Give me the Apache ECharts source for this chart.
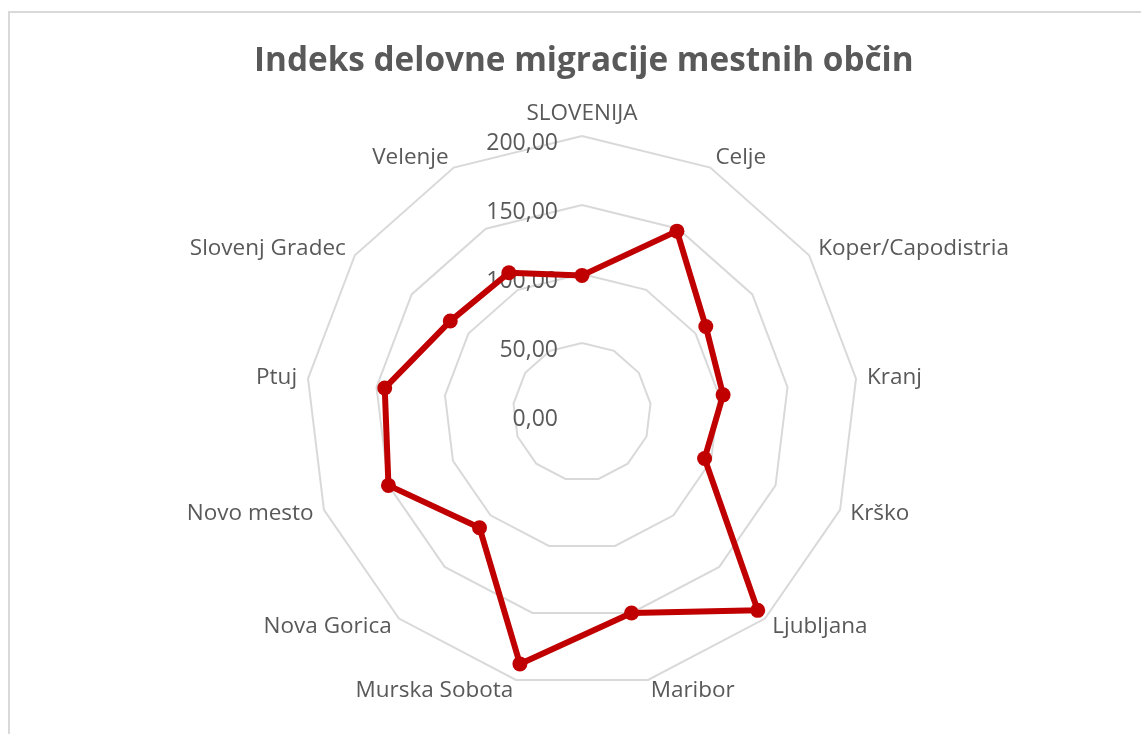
<!DOCTYPE html>
<html>
<head>
<meta charset="utf-8">
<title>Indeks delovne migracije mestnih občin</title>
<script src="https://cdn.jsdelivr.net/npm/echarts@6/dist/echarts.min.js"></script>
<style>
    html, body {
        margin: 0;
        padding: 0;
        background: #fff;
    }
    #wrap {
        position: relative;
        width: 1141px;
        height: 734px;
        overflow: hidden;
    }
    /* okvir grafa (kot v Excelu) */
    #frame {
        position: absolute;
        left: 8px;
        top: 11px;
        width: 1200px;
        height: 800px;
        border-left: 2px solid #d9d9d9;
        border-top: 2px solid #d9d9d9;
    }
    #chart {
        position: absolute;
        left: 0;
        top: 0;
        width: 1141px;
        height: 734px;
    }
</style>
</head>
<body>
<div id="wrap">
    <div id="frame"></div>
    <div id="chart"></div>
</div>
<script>
    // podatki (v smeri urinega kazalca od vrha)
    var obcine = ['SLOVENIJA', 'Celje', 'Koper/Capodistria', 'Kranj', 'Krško', 'Ljubljana', 'Maribor',
        'Murska Sobota', 'Nova Gorica', 'Novo mesto', 'Ptuj', 'Slovenj Gradec', 'Velenje'];
    var indeks = [99, 148, 109, 103, 95, 192, 150, 188, 112, 150, 144, 116, 114];
    var osMax = 200;
    var osKoraki = 4;

    var barvaTeksta = '#595959';
    var font = '"Open Sans", "Noto Sans", sans-serif';

    // echarts riše osi v nasprotni smeri urinega kazalca -> obrnemo vrstni red (prvi ostane na vrhu)
    function vUrinoSmer(arr) {
        return [arr[0]].concat(arr.slice(1).reverse());
    }

    var chart = echarts.init(document.getElementById('chart'));

    var indicator = vUrinoSmer(obcine).map(function (name, i) {
        var ind = { name: name, min: 0, max: osMax };
        // oznake vrednosti samo na prvi osi
        if (i === 0) {
            ind.axisLabel = { show: true };
        }
        return ind;
    });

    var option = {
        animation: false,
        title: {
            text: 'Indeks delovne migracije mestnih občin',
            left: 249,
            top: 40,
            textStyle: {
                fontFamily: font,
                fontSize: 33.3,
                fontWeight: 'bold',
                color: barvaTeksta
            }
        },
        radar: {
            center: [582, 412],
            radius: 276,
            startAngle: 90,
            splitNumber: osKoraki,
            shape: 'polygon',
            indicator: indicator,
            nameGap: 11,
            axisName: {
                color: barvaTeksta,
                fontFamily: font,
                fontSize: 22.5
            },
            axisLine: { show: false },
            axisTick: { show: false },
            axisLabel: {
                show: false,
                color: barvaTeksta,
                fontFamily: font,
                fontSize: 23,
                margin: 24,
                showMinLabel: true,
                showMaxLabel: true,
                formatter: function (v) {
                    return '{v|' + v.toFixed(2).replace('.', ',') + '}';
                },
                rich: {
                    v: {
                        color: barvaTeksta,
                        fontFamily: font,
                        fontSize: 23,
                        padding: [14, 0, 0, 0]
                    }
                }
            },
            splitLine: {
                lineStyle: { color: '#d9d9d9', width: 2 }
            },
            splitArea: { show: false }
        },
        series: [{
            type: 'radar',
            symbol: 'circle',
            symbolSize: 15,
            lineStyle: { color: '#c00000', width: 6 },
            itemStyle: { color: '#c00000' },
            data: [{ value: vUrinoSmer(indeks), name: 'Indeks' }]
        }]
    };

    chart.setOption(option);
</script>
</body>
</html>
